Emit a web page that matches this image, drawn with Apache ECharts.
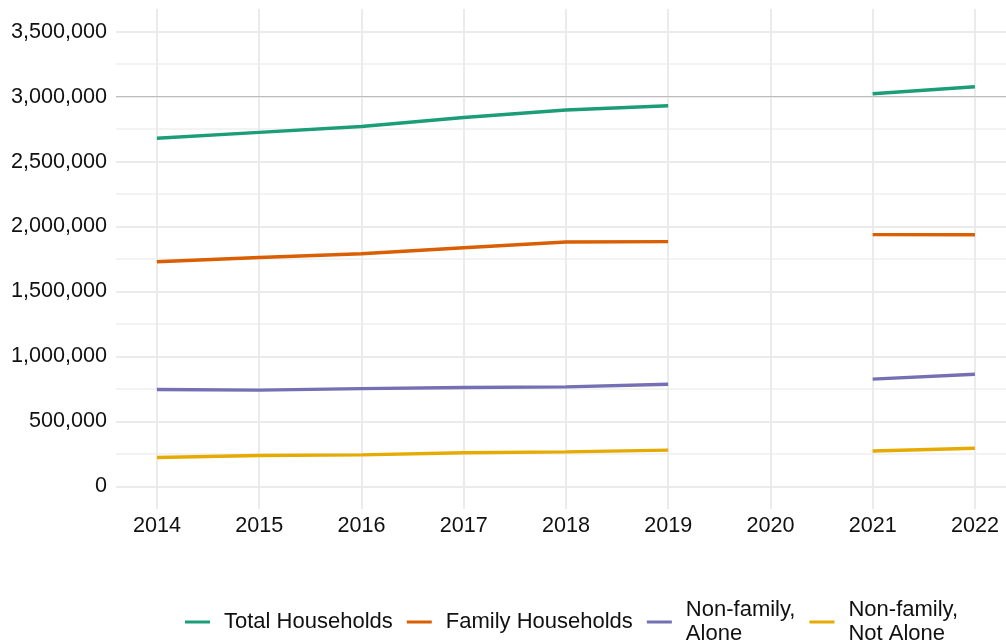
<!DOCTYPE html>
<html>
<head>
<meta charset="utf-8">
<script src="https://cdn.jsdelivr.net/npm/echarts@6/dist/echarts.min.js"></script>
<style>
html, body { margin: 0; padding: 0; background: #fff; }
#chart { width: 1006px; height: 642px; }
</style>
</head>
<body>
<div id="chart"></div>
<script>
var years = [2014, 2015, 2016, 2017, 2018, 2019, 2020, 2021, 2022];
var totalHouseholds = [2680000, 2725000, 2770000, 2840000, 2897000, 2930000, null, 3022000, 3076000];
var familyHouseholds = [1729000, 1762000, 1790000, 1837000, 1881000, 1884000, null, 1938000, 1937000];
var nonFamilyAlone = [745000, 740000, 752000, 760000, 765000, 786000, null, 825000, 863000];
var nonFamilyNotAlone = [221000, 237000, 242000, 258000, 265000, 278000, null, 272000, 293000];
var seriesNames = ["Total Households", "Family Households", "Non-family, Alone", "Non-family, Not Alone"];
var xTickLabels = [2014, 2015, 2016, 2017, 2018, 2019, 2020, 2021, 2022];
var yTickLabels = [0, 500000, 1000000, 1500000, 2000000, 2500000, 3000000, 3500000];
var yMinorTicks = [250000, 750000, 1250000, 1750000, 2250000, 2750000, 3250000];
var colors = ["#1b9e77", "#d95f02", "#7570b3", "#e6ab02"];

function pairs(vals) {
  return years.map(function (y, i) { return [y, vals[i] === null ? '-' : vals[i]]; });
}
var seriesValues = [totalHouseholds, familyHouseholds, nonFamilyAlone, nonFamilyNotAlone];
var FONT = "'Liberation Sans', Arial, sans-serif";

var series = seriesValues.map(function (vals, i) {
  var s = {
    name: seriesNames[i],
    type: 'line',
    xAxisIndex: 0,
    yAxisIndex: 0,
    data: pairs(vals),
    showSymbol: false,
    symbol: 'none',
    connectNulls: false,
    lineStyle: { color: colors[i], width: 3.4 },
    itemStyle: { color: colors[i] },
    z: 5
  };
  if (i === 0) {
    s.markLine = {
      silent: true,
      symbol: ['none', 'none'],
      label: { show: false },
      lineStyle: { color: '#bdbdbd', width: 1, type: 'solid' },
      data: [{ yAxis: 3000000 }],
      animation: false
    };
  }
  return s;
});

var chart = echarts.init(document.getElementById('chart'), null, { renderer: 'canvas' });
chart.setOption({
  animation: false,
  backgroundColor: '#ffffff',
  grid: { left: 116, right: 0, top: 9, height: 500, containLabel: false },
  xAxis: [{
    type: 'value',
    min: 2013.6,
    max: 2022.304,
    axisLine: { show: false },
    axisTick: { show: false, customValues: xTickLabels },
    axisLabel: {
      customValues: xTickLabels,
      color: '#111', fontFamily: FONT, fontSize: 21.6, margin: 6,
      formatter: function (v) { return String(Math.round(v)); }
    },
    splitLine: { show: true, lineStyle: { color: '#ebebeb', width: 2 } }
  }],
  yAxis: [{
    type: 'value',
    min: -175000,
    max: 3675000,
    axisLine: { show: false },
    axisTick: { show: false, customValues: yTickLabels },
    axisLabel: {
      customValues: yTickLabels,
      color: '#111', fontFamily: FONT, fontSize: 21.6, margin: 9,
      formatter: function (v) { return Math.round(v).toLocaleString('en-US'); }
    },
    splitLine: { show: true, lineStyle: { color: '#ebebeb', width: 2 } }
  }, {
    type: 'value',
    min: -175000,
    max: 3675000,
    position: 'left',
    axisLine: { show: false },
    axisTick: { show: false, customValues: yMinorTicks },
    axisLabel: { show: false, customValues: yMinorTicks },
    splitLine: { show: true, lineStyle: { color: '#efefef', width: 1.5 } }
  }],
  legend: {
    left: 185,
    top: 598,
    padding: 0,
    orient: 'horizontal',
    icon: 'rect',
    itemWidth: 25,
    itemHeight: 3,
    itemGap: 14,
    data: seriesNames,
    formatter: function (name) { return name.replace(', ', ',\n'); },
    textStyle: { color: '#111', fontFamily: FONT, fontSize: 22, lineHeight: 24, padding: [0, 0, 0, 9] }
  },
  series: series
});
</script>
</body>
</html>
